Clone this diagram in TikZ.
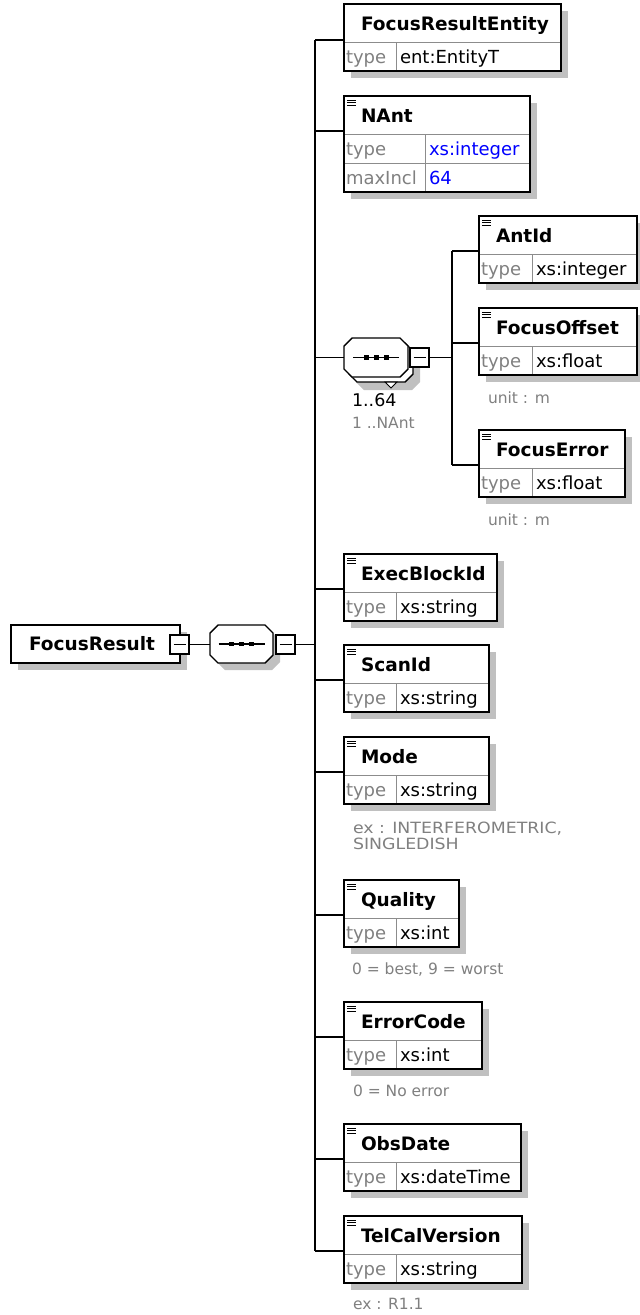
\documentclass[tikz,border=0pt]{standalone}
\usepackage{fontspec}
\setmainfont{DejaVu Sans}
\newfontfamily\widefont[FakeStretch=1.12]{DejaVu Sans}
\usetikzlibrary{shadows,fit}
\definecolor{shadowgray}{RGB}{192,192,192}
\definecolor{divgray}{RGB}{140,140,140}
\definecolor{txtgray}{RGB}{128,128,128}
\definecolor{valblue}{RGB}{0,0,255}
\tikzset{
  every node/.style={inner sep=0pt, outer sep=0pt},
  boxshadow/.style={drop shadow={shadow xshift=7pt, shadow yshift=-7pt, fill=shadowgray, opacity=1}},
  elbox/.style={draw=black, line width=1.8pt, fill=white, boxshadow},
  hdiv/.style={draw=divgray, line width=1pt},
  titletext/.style={anchor=base west, font=\fontsize{18.5}{22}\selectfont\bfseries},
  lbltext/.style={anchor=base west, text=txtgray, font=\fontsize{18}{21}\selectfont},
  valtext/.style={anchor=base west, text=black, font=\fontsize{18}{21}\selectfont},
  annot/.style={anchor=base west, text=txtgray, font=\fontsize{15.5}{18}\selectfont},
  multtext/.style={anchor=base west, text=black, font=\fontsize{17.5}{20}\selectfont},
  conn/.style={draw=black, line width=1.5pt},
  iconline/.style={draw=black, line width=1pt},
  minusbox/.style={draw=black, line width=1.4pt, fill=white},
  minusline/.style={draw=black, line width=1.3pt},
  octline/.style={draw=black, line width=1.4pt, fill=white},
  octshadow/.style={fill=shadowgray},
  namebox/.style={draw=none},
}
% element box: id, left, top, right, divider, bottom, column, title
\newcommand\xel[8]{%
  \node[elbox, fit={(#2,#3) (#4,#6)}] (#1) {};
  \draw[hdiv] (#2+0.9,#5) -- (#4-0.9,#5);
  \draw[hdiv] (#7,#5) -- (#7,#6-0.9);
  \node[titletext] (#1-title) at (#2+17,#5-12) {#8};
}
\newcommand\xicon[2]{%
  \draw[iconline] (#1+3,#2+4) -- (#1+12,#2+4);
  \draw[iconline] (#1+3,#2+6.5) -- (#1+12,#2+6.5);
  \draw[iconline] (#1+3,#2+9) -- (#1+12,#2+9);
}
% row: id, left, column, row bottom, label, value, colour
\newcommand\xrow[7]{%
  \node[lbltext] (#1-lbl) at (#2+2,#4-7.5) {#5};
  \node[valtext, text=#7] (#1-val) at (#3+4,#4-7.5) {#6};
}
\newcommand\octo[6]{%
  \path[#1] (#2+#6,#3) -- (#4-#6,#3) -- (#4,#3+#6) -- (#4,#5-#6) -- (#4-#6,#5) -- (#2+#6,#5) -- (#2,#5-#6) -- (#2,#3+#6) -- cycle;}
\newcommand\seqdots[2]{%
  \draw[line width=1.2pt] (#1-23,#2) -- (#1+23,#2);
  \fill (#1-12.5,#2-2.4) rectangle (#1-7.5,#2+2.4);
  \fill (#1-2.5,#2-2.4) rectangle (#1+2.5,#2+2.4);
  \fill (#1+7.5,#2-2.4) rectangle (#1+12.5,#2+2.4);
}
\begin{document}
\begin{tikzpicture}[x=1pt,y=-1pt]
\useasboundingbox (0,0) rectangle (640,1315);
\fill[white] (0,0) rectangle (640,1315);

% root element
\node[elbox, fit={(11,625) (180,663)}] (FR) {};
\node[titletext, anchor=base] (FR-title) at (92,650) {FocusResult};
\node[minusbox, fit={(170,635) (189,654)}] (FR-m) {};
\draw[minusline] ([xshift=-6pt]FR-m.center) -- ([xshift=6pt]FR-m.center);

% main sequence
\octo{octshadow}{217}{632}{280}{670}{8}
\octo{octline}{210}{625}{273}{663}{8}
\node[namebox, fit={(210,625) (273,663)}] (seq) {};
\seqdots{241.5}{644}
\node[minusbox, fit={(276,635) (295,654)}] (seq-m) {};
\draw[minusline] ([xshift=-6pt]seq-m.center) -- ([xshift=6pt]seq-m.center);

% children of main sequence
\xel{FRE}{344}{4}{561}{42}{71}{396}{FocusResultEntity}
\xrow{FRE-r1}{344}{396}{71}{type}{ent:EntityT}{black}

\xel{NAnt}{344}{96}{530}{134}{192}{425}{NAnt}
\draw[hdiv] (344.9,163) -- (529.1,163);
\xicon{344}{96}
\xrow{NAnt-r1}{344}{425}{163}{type}{xs:integer}{valblue}
\xrow{NAnt-r2}{344}{425}{192}{maxIncl}{64}{valblue}

% inner sequence
\octo{octshadow}{356}{350}{420}{390}{8}
\octo{octline}{349}{343}{413}{382}{8}
\draw[line width=1pt, fill=white] (385,382) -- (397,382) -- (391,388) -- cycle;
\octo{octline}{344}{338}{408}{377}{8}
\node[namebox, fit={(344,338) (408,377)}] (seq2) {};
\seqdots{376}{357.5}
\node[minusbox, fit={(410,348) (429,367)}] (seq2-m) {};
\draw[minusline] ([xshift=-6pt]seq2-m.center) -- ([xshift=6pt]seq2-m.center);
\node[multtext] (mult) at (352,406) {1..64};
\node[annot] (mult-note) at (352,428) {1 ..NAnt};

\xel{AntId}{479}{216}{637}{254}{283}{532}{AntId}
\xicon{479}{216}
\xrow{AntId-r1}{479}{532}{283}{type}{xs:integer}{black}

\xel{FocusOffset}{479}{308}{637}{346}{375}{532}{FocusOffset}
\xicon{479}{308}
\xrow{FocusOffset-r1}{479}{532}{375}{type}{xs:float}{black}
\node[annot] (FocusOffset-note) at (488,403) {unit : m};

\xel{FocusError}{479}{430}{625}{468}{497}{532}{FocusError}
\xicon{479}{430}
\xrow{FocusError-r1}{479}{532}{497}{type}{xs:float}{black}
\node[annot] (FocusError-note) at (488,525) {unit : m};

\xel{ExecBlockId}{344}{554}{497}{592}{621}{396}{ExecBlockId}
\xicon{344}{554}
\xrow{ExecBlockId-r1}{344}{396}{621}{type}{xs:string}{black}

\xel{ScanId}{344}{645}{489}{683}{712}{396}{ScanId}
\xicon{344}{645}
\xrow{ScanId-r1}{344}{396}{712}{type}{xs:string}{black}

\xel{Mode}{344}{737}{489}{775}{804}{396}{Mode}
\xicon{344}{737}
\xrow{Mode-r1}{344}{396}{804}{type}{xs:string}{black}
\node[annot, font=\widefont\fontsize{15.5}{18}\selectfont] (Mode-note1) at (353,833) {ex : INTERFEROMETRIC,};
\node[annot, font=\widefont\fontsize{15.5}{18}\selectfont] (Mode-note2) at (353,849) {SINGLEDISH};

\xel{Quality}{344}{880}{459}{918}{947}{396}{Quality}
\xicon{344}{880}
\xrow{Quality-r1}{344}{396}{947}{type}{xs:int}{black}
\node[annot] (Quality-note) at (352,974) {0 = best, 9 = worst};

\xel{ErrorCode}{344}{1002}{482}{1040}{1069}{396}{ErrorCode}
\xicon{344}{1002}
\xrow{ErrorCode-r1}{344}{396}{1069}{type}{xs:int}{black}
\node[annot] (ErrorCode-note) at (353,1096) {0 = No error};

\xel{ObsDate}{344}{1124}{521}{1162}{1191}{396}{ObsDate}
\xicon{344}{1124}
\xrow{ObsDate-r1}{344}{396}{1191}{type}{xs:dateTime}{black}

\xel{TelCalVersion}{344}{1216}{522}{1254}{1283}{396}{TelCalVersion}
\xicon{344}{1216}
\xrow{TelCalVersion-r1}{344}{396}{1283}{type}{xs:string}{black}
\node[annot] (TelCalVersion-note) at (353,1309) {ex : R1.1};

% connectors
\coordinate (bus) at (315,0);
\coordinate (bus2) at (452,0);
\coordinate (FRE-in) at (344,40);
\coordinate (NAnt-in) at (344,131);
\coordinate (AntId-in) at (479,251);
\coordinate (FocusOffset-in) at (479,343);
\coordinate (FocusError-in) at (479,465);
\coordinate (ExecBlockId-in) at (344,589);
\coordinate (ScanId-in) at (344,680);
\coordinate (Mode-in) at (344,772);
\coordinate (Quality-in) at (344,915);
\coordinate (ErrorCode-in) at (344,1037);
\coordinate (ObsDate-in) at (344,1159);
\coordinate (TelCalVersion-in) at (344,1251);

\draw[conn] (FR-m.east) -- (FR-m.east -| seq.west);
\draw[conn] (seq-m.east) -- (seq-m.east -| bus);
\draw[conn] (FRE-in -| bus) -- (TelCalVersion-in -| bus);
\foreach \c in {FRE,NAnt,ExecBlockId,ScanId,Mode,Quality,ErrorCode,ObsDate,TelCalVersion}
  \draw[conn] (\c-in -| bus) -- (\c-in);
\draw[conn] (seq2.west -| bus) -- (seq2.west);
\draw[conn] (seq2-m.east) -- (seq2-m.east -| bus2);
\draw[conn] (AntId-in -| bus2) -- (FocusError-in -| bus2);
\foreach \c in {AntId,FocusOffset,FocusError}
  \draw[conn] (\c-in -| bus2) -- (\c-in);
\end{tikzpicture}
\end{document}
